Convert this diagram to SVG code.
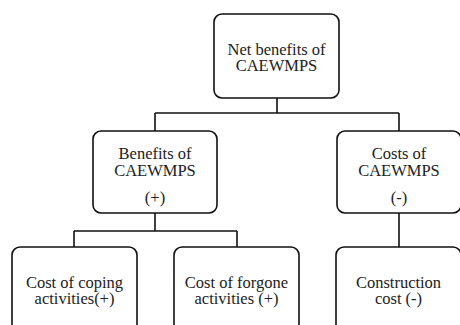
<svg xmlns="http://www.w3.org/2000/svg" width="460" height="325" viewBox="0 0 460 325">
<style>
.box{fill:#fff;stroke:#111;stroke-width:1.6}
.conn{fill:none;stroke:#111;stroke-width:1.6}
.t{font-family:'Liberation Serif','Times New Roman','DejaVu Serif',serif;font-size:16.5px;fill:#222;text-anchor:middle}
</style>
<rect width="460" height="325" fill="#fff"/>
<g id="connectors">
<path class="conn" d="M277,98 V113 M155,113 H399 M155,113 V131 M399,113 V131"/>
<path class="conn" d="M155,213 V231 M74,231 H237 M74,231 V247 M237,231 V247 M399,213 V247"/>
</g>
<g id="net">
<rect class="box" x="214" y="14" width="125" height="84" rx="8"/>
<text class="t" font-family="Liberation Serif, serif" x="276.5" y="54.5">Net benefits of</text>
<text class="t" font-family="Liberation Serif, serif" x="276.5" y="70.5">CAEWMPS</text>
</g>
<g id="benefits">
<rect class="box" x="93" y="131" width="124" height="82" rx="8"/>
<text class="t" font-family="Liberation Serif, serif" x="155" y="159">Benefits of</text>
<text class="t" font-family="Liberation Serif, serif" x="155" y="176">CAEWMPS</text>
<text class="t" font-family="Liberation Serif, serif" x="155" y="202.5">(+)</text>
</g>
<g id="costs">
<rect class="box" x="337" y="131" width="124" height="82" rx="8"/>
<text class="t" font-family="Liberation Serif, serif" x="399" y="159">Costs of</text>
<text class="t" font-family="Liberation Serif, serif" x="399" y="176">CAEWMPS</text>
<text class="t" font-family="Liberation Serif, serif" x="399" y="202.5">(-)</text>
</g>
<g id="coping">
<rect class="box" x="12" y="247" width="125" height="100" rx="8"/>
<text class="t" font-family="Liberation Serif, serif" x="74.5" y="288">Cost of coping</text>
<text class="t" font-family="Liberation Serif, serif" x="74.5" y="304">activities(+)</text>
</g>
<g id="forgone">
<rect class="box" x="174" y="247" width="125" height="100" rx="8"/>
<text class="t" font-family="Liberation Serif, serif" x="236.5" y="288">Cost of forgone</text>
<text class="t" font-family="Liberation Serif, serif" x="236.5" y="304">activities (+)</text>
</g>
<g id="construction">
<rect class="box" x="336" y="247" width="125" height="100" rx="8"/>
<text class="t" font-family="Liberation Serif, serif" x="398.5" y="288">Construction</text>
<text class="t" font-family="Liberation Serif, serif" x="398.5" y="304">cost (-)</text>
</g>
</svg>
